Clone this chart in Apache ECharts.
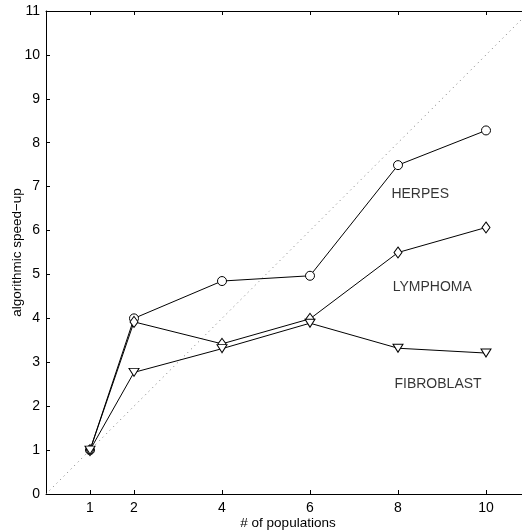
<!DOCTYPE html>
<html>
<head>
<meta charset="utf-8">
<script src="https://cdn.jsdelivr.net/npm/echarts@6/dist/echarts.min.js"></script>
<style>
  html, body { margin: 0; padding: 0; background: #fff; }
  #chart { width: 522px; height: 531px; }
</style>
</head>
<body>
<div id="chart"></div>
<script>
// populations on x
const populations = [1, 2, 4, 6, 8, 10];
const herpes = [1.0, 4.0, 4.85, 4.97, 7.49, 8.28];
const lymphoma = [1.0, 3.92, 3.42, 3.99, 5.5, 6.07];
const fibroblast = [1.0, 2.77, 3.31, 3.89, 3.32, 3.21];
const xTicks = [1, 2, 4, 6, 8, 10];
const ideal = [[0, 0], [11, 11]];
// text labels: [x, y, name]
const curveLabels = [
  [7.85, 6.83, 'HERPES'],
  [7.88, 4.72, 'LYMPHOMA'],
  [7.92, 2.5, 'FIBROBLAST']
];

const font = '"Liberation Sans", Arial, Helvetica, sans-serif';
const pair = ys => populations.map((x, i) => [x, ys[i]]);

const lineSeries = (name, ys, symbol, size, rotate) => ({
  name: name,
  type: 'line',
  data: pair(ys),
  symbol: symbol,
  symbolSize: size,
  symbolRotate: rotate || 0,
  showAllSymbol: true,
  animation: false,
  lineStyle: { color: '#000', width: 1 },
  itemStyle: { color: '#fff', borderColor: '#000', borderWidth: 1 },
  z: 3
});

const chart = echarts.init(document.getElementById('chart'));
chart.setOption({
  backgroundColor: '#ffffff',
  animation: false,
  grid: { left: 46, right: -8, top: 11, bottom: 37, containLabel: false, outerBoundsMode: 'none' },
  xAxis: [{
    type: 'value',
    min: 0, max: 11,
    name: '# of populations',
    nameLocation: 'middle',
    nameGap: 22,
    nameMoveOverlap: false,
    nameTextStyle: { color: '#000', fontSize: 13.5, fontFamily: font },
    axisLine: { lineStyle: { color: '#000', width: 1 } },
    axisTick: { inside: true, length: 4, customValues: xTicks, lineStyle: { color: '#000' } },
    axisLabel: { customValues: xTicks, color: '#000', fontSize: 14, fontFamily: font, margin: 7 },
    splitLine: { show: false }
  }, {
    type: 'value',
    position: 'top',
    min: 0, max: 11,
    axisLine: { lineStyle: { color: '#000', width: 1 } },
    axisTick: { inside: true, length: 4, customValues: xTicks, lineStyle: { color: '#000' } },
    axisLabel: { show: false },
    splitLine: { show: false }
  }],
  yAxis: {
    type: 'value',
    min: 0, max: 11, interval: 1,
    name: 'algorithmic speed\u2212up',
    nameLocation: 'middle',
    nameGap: 22,
    nameMoveOverlap: false,
    nameTextStyle: { color: '#000', fontSize: 13.5, fontFamily: font },
    axisLine: { show: true, lineStyle: { color: '#000', width: 1 } },
    axisTick: { show: true, inside: true, length: 4, lineStyle: { color: '#000' } },
    axisLabel: { color: '#000', fontSize: 14, fontFamily: font, margin: 6 },
    splitLine: { show: false }
  },
  series: [
    {
      type: 'line',
      data: ideal,
      symbol: 'none',
      lineStyle: { color: '#777', width: 1, type: [1, 4] },
      z: 1
    },
    lineSeries('HERPES', herpes, 'circle', 9),
    lineSeries('LYMPHOMA', lymphoma, 'diamond', [8, 11]),
    lineSeries('FIBROBLAST', fibroblast, 'triangle', [10, 8], 180),
    {
      type: 'scatter',
      data: curveLabels,
      symbolSize: 0,
      label: {
        show: true,
        position: 'right',
        distance: 0,
        formatter: p => p.data[2],
        color: '#000',
        fontSize: 14,
        fontFamily: font
      },
      z: 4
    }
  ]
});
</script>
</body>
</html>
